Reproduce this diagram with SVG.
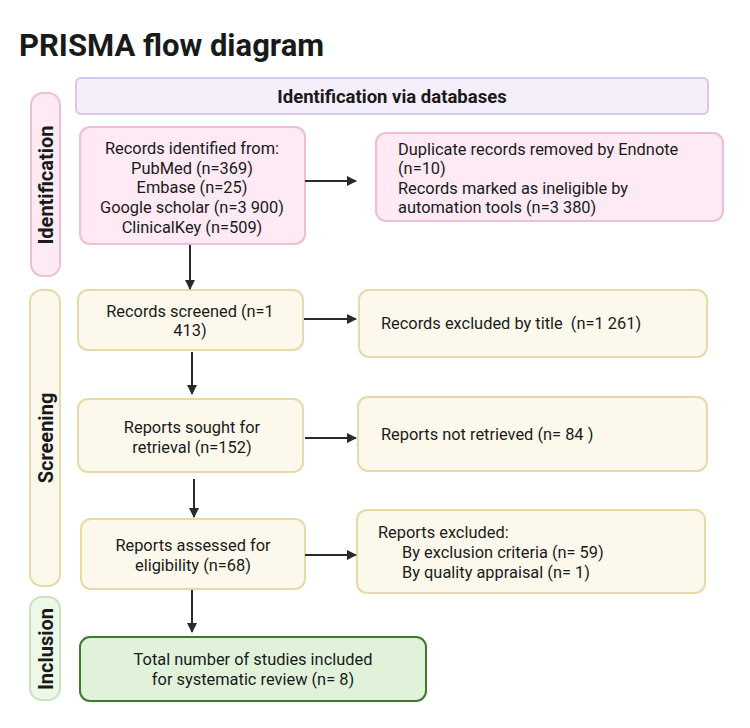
<svg xmlns="http://www.w3.org/2000/svg" width="750" height="728" viewBox="0 0 750 728">
<style>
text{font-family:Roboto,"Liberation Sans",sans-serif;fill:#1a1a1a}
.t{font-size:16.4px}
.c{text-anchor:middle}
.b{font-weight:bold}
.side{font-size:20px;font-weight:bold;text-anchor:middle}
.pk{fill:#fdeaf4;stroke:#ecbfd6;stroke-width:2}
.yl{fill:#fcf9ec;stroke:#e8d9a8;stroke-width:2}
.gr{fill:#e0f3da;stroke:#3f7a2f;stroke-width:2}
.conn line{stroke:#2a2a2a;stroke-width:2;marker-end:url(#ah)}
</style>
<defs>
<marker id="ah" markerWidth="10" markerHeight="10" refX="9" refY="5" orient="auto" markerUnits="userSpaceOnUse">
<path d="M0,0 L10,5 L0,10 Z" fill="#2a2a2a"/>
</marker>
</defs>
<rect width="750" height="728" fill="#ffffff"/>
<text x="19" y="56" style="font-size:31px;font-weight:bold">PRISMA flow diagram</text>

<g id="header">
<rect x="76" y="78" width="632" height="36" rx="5" fill="#f4effb" stroke="#d8c7ee" stroke-width="2"/>
<text x="392" y="103" class="b c" style="font-size:18.5px">Identification via databases</text>
</g>

<g id="side-identification">
<rect x="31" y="93" width="29" height="183" rx="12" class="pk" fill="#fdeef6"/>
<text class="side" transform="translate(53,185) rotate(-90)">Identification</text>
</g>
<g id="side-screening">
<rect x="30" y="290" width="30" height="296" rx="12" class="yl"/>
<text class="side" transform="translate(53,438) rotate(-90)">Screening</text>
</g>
<g id="side-inclusion">
<rect x="30" y="597" width="30" height="103" rx="12" fill="#eef8e9" stroke="#c8e4bc" stroke-width="2"/>
<text class="side" transform="translate(53,649) rotate(-90)">Inclusion</text>
</g>

<g id="records-identified">
<rect x="80" y="127" width="225" height="117" rx="10" class="pk"/>
<text class="t c" x="192" y="154">Records identified from:</text>
<text class="t c" x="192" y="174">PubMed (n=369)</text>
<text class="t c" x="192" y="193">Embase (n=25)</text>
<text class="t c" x="192" y="213">Google scholar (n=3 900)</text>
<text class="t c" x="192" y="233">ClinicalKey (n=509)</text>
</g>

<g id="duplicates">
<rect x="376" y="133" width="347" height="88" rx="10" class="pk"/>
<text class="t" x="398" y="155">Duplicate records removed by Endnote</text>
<text class="t" x="398" y="174">(n=10)</text>
<text class="t" x="398" y="194">Records marked as ineligible by</text>
<text class="t" x="398" y="213">automation tools (n=3 380)</text>
</g>

<g id="records-screened">
<rect x="78" y="290" width="225" height="60" rx="10" class="yl"/>
<text class="t c" x="190" y="317">Records screened (n=1</text>
<text class="t c" x="190" y="336">413)</text>
</g>

<g id="records-excluded">
<rect x="359" y="290" width="348" height="67" rx="10" class="yl"/>
<text class="t" x="381" y="329" xml:space="preserve">Records excluded by title  (n=1 261)</text>
</g>

<g id="reports-sought">
<rect x="78" y="399" width="225" height="73" rx="10" class="yl"/>
<text class="t c" x="192" y="433">Reports sought for</text>
<text class="t c" x="192" y="453">retrieval (n=152)</text>
</g>

<g id="not-retrieved">
<rect x="358" y="397" width="349" height="74" rx="10" class="yl"/>
<text class="t" x="381" y="440">Reports not retrieved (n= 84 )</text>
</g>

<g id="reports-assessed">
<rect x="81" y="519" width="224" height="70" rx="10" class="yl"/>
<text class="t c" x="193" y="551">Reports assessed for</text>
<text class="t c" x="193" y="571">eligibility (n=68)</text>
</g>

<g id="reports-excluded">
<rect x="357" y="510" width="348" height="83" rx="10" class="yl"/>
<text class="t" x="378" y="538">Reports excluded:</text>
<text class="t" x="402" y="558">By exclusion criteria (n= 59)</text>
<text class="t" x="402" y="578">By quality appraisal (n= 1)</text>
</g>

<g id="included">
<rect x="80" y="637" width="346" height="64" rx="10" class="gr"/>
<text class="t c" x="253" y="665">Total number of studies included</text>
<text class="t c" x="253" y="685">for systematic review (n= 8)</text>
</g>

<g id="connectors" class="conn">
<line x1="305" y1="181" x2="356" y2="181"/>
<line x1="190" y1="245" x2="190" y2="289"/>
<line x1="304" y1="319" x2="356" y2="319"/>
<line x1="192" y1="352" x2="192" y2="394"/>
<line x1="305" y1="438" x2="356" y2="438"/>
<line x1="194" y1="479" x2="194" y2="517"/>
<line x1="305" y1="555" x2="356" y2="555"/>
<line x1="192" y1="590" x2="192" y2="632"/>
</g>
</svg>
